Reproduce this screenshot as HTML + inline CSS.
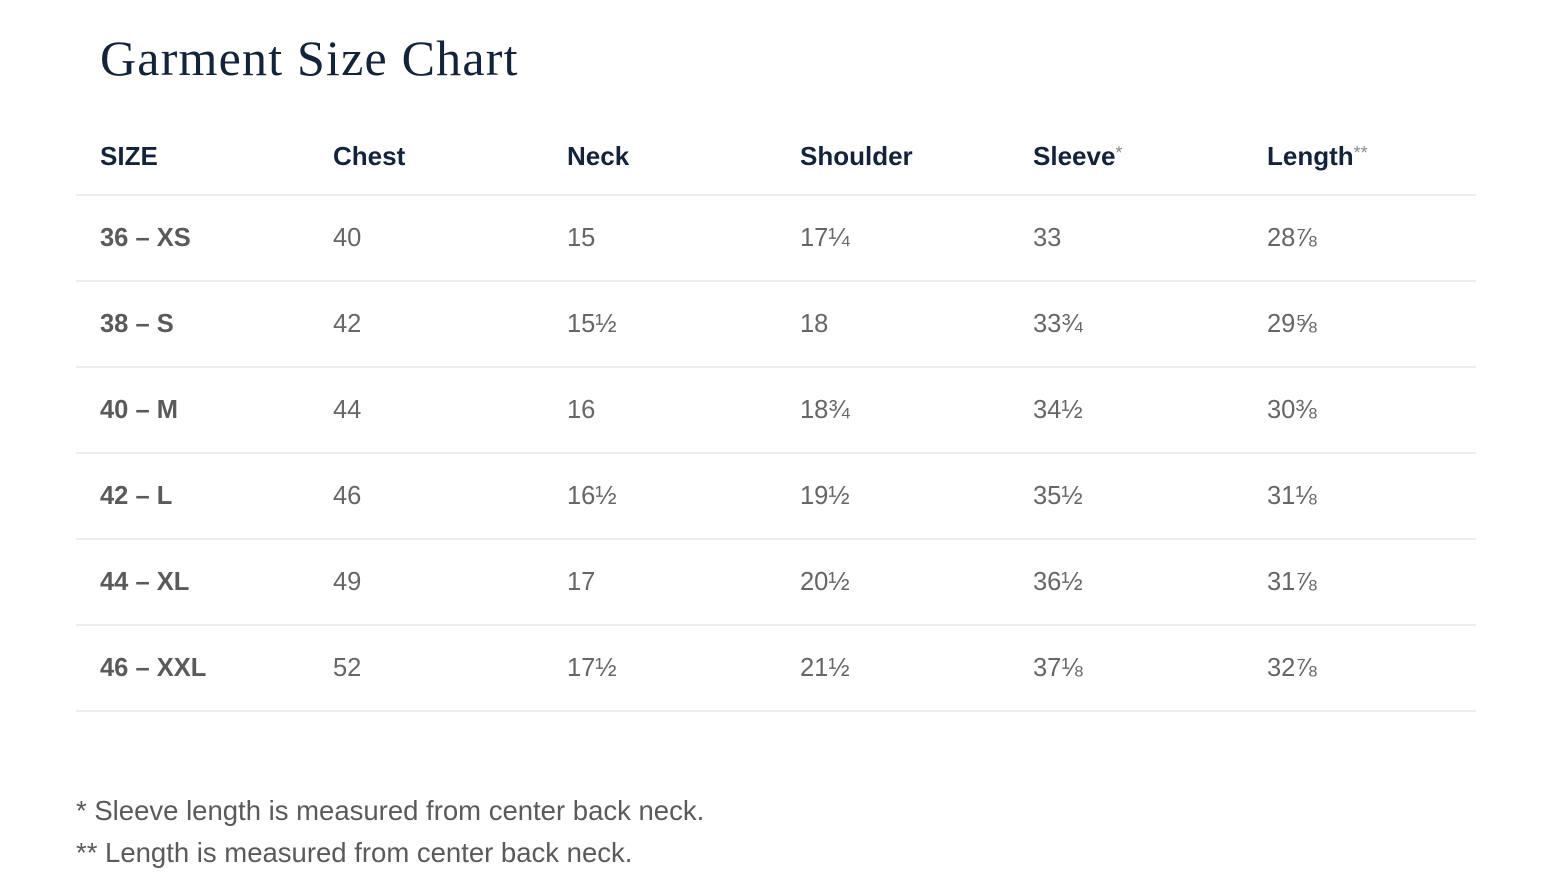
<!DOCTYPE html>
<html><head><meta charset="utf-8"><style>
body{margin:0;width:1560px;height:894px;background:#fff;position:relative;overflow:hidden;font-family:"Liberation Sans",sans-serif}
.t{position:absolute;white-space:nowrap}
h1{position:absolute;left:100px;top:29px;margin:0;font-family:"Liberation Serif",serif;font-weight:normal;font-size:50px;color:#13243a;letter-spacing:1.2px}
.h{font-weight:bold;font-size:26px;color:#13243a;top:141px}
.h sup{font-weight:normal;color:#888;font-size:18px;vertical-align:6px}
.c{font-size:25.5px;color:#666;}
.b{font-weight:bold;color:#5a5a5a}
.line{position:absolute;left:76px;width:1400px;height:2px;background:#ececec}
.f{font-size:27.5px;color:#5a5a5a;left:76px}
</style></head><body>
<h1>Garment Size Chart</h1>
<div class="t h" style="left:100px">SIZE</div>
<div class="t h" style="left:333px">Chest</div>
<div class="t h" style="left:567px">Neck</div>
<div class="t h" style="left:800px">Shoulder</div>
<div class="t h" style="left:1033px">Sleeve<sup>*</sup></div>
<div class="t h" style="left:1267px">Length<sup>**</sup></div>
<div class="line" style="top:194px"></div>
<div class="line" style="top:280px"></div>
<div class="line" style="top:366px"></div>
<div class="line" style="top:452px"></div>
<div class="line" style="top:538px"></div>
<div class="line" style="top:624px"></div>
<div class="line" style="top:710px"></div>
<script>
const rows=[["36 – XS","40","15","17¼","33","28⅞"],["38 – S","42","15½","18","33¾","29⅝"],["40 – M","44","16","18¾","34½","30⅜"],["42 – L","46","16½","19½","35½","31⅛"],["44 – XL","49","17","20½","36½","31⅞"],["46 – XXL","52","17½","21½","37⅛","32⅞"]];
const xs=[100,333,567,800,1033,1267];
rows.forEach((r,i)=>r.forEach((v,j)=>{const d=document.createElement('div');d.className='t c'+(j==0?' b':'');d.style.left=xs[j]+'px';d.style.top=(224+86*i)+'px';d.textContent=v;document.body.appendChild(d);}));
</script>
<div class="t f" style="top:795px">* Sleeve length is measured from center back neck.</div>
<div class="t f" style="top:837px">** Length is measured from center back neck.</div>
</body></html>
